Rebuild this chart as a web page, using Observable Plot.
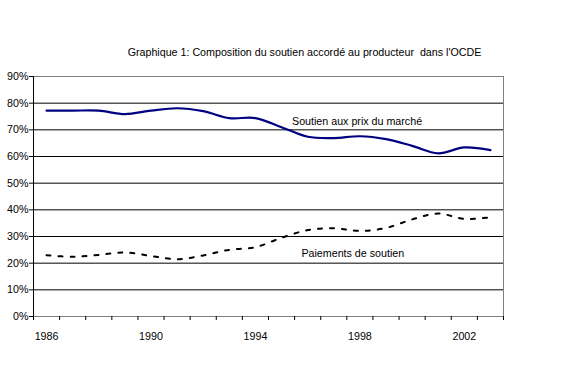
<!DOCTYPE html>
<html><head><meta charset="utf-8">
<script src="https://cdn.jsdelivr.net/npm/d3@7"></script>
<script src="https://cdn.jsdelivr.net/npm/@observablehq/plot@0.6"></script>
<style>body{margin:0;background:#fff;} svg{display:block}</style>
</head><body><div id="chart"></div>
<script>
const title = "Graphique 1: Composition du soutien accordé au producteur  dans l'OCDE";
const years = [1986,1987,1988,1989,1990,1991,1992,1993,1994,1995,1996,1997,1998,1999,2000,2001,2002,2003];
const soutienPrix = [77.2,77.2,77.2,75.9,77.2,78.1,77.0,74.4,74.4,71.0,67.4,66.9,67.6,66.5,64.0,61.2,63.4,62.4];
const paiements   = [23.0,22.4,23.1,24.0,22.7,21.5,22.9,25.0,26.0,29.5,32.4,33.1,32.1,33.2,36.4,38.6,36.6,37.2];
const seriesNames = ["Soutien aux prix du marché", "Paiements de soutien"];
const yTicks = [0,10,20,30,40,50,60,70,80,90];
const xTickLabels = [1986,1990,1994,1998,2002];

const data = years.map((year, i) => ({year, prix: soutienPrix[i], paiem: paiements[i]}));
const x0 = years[0] - 0.5, x1 = years[years.length - 1] + 0.5;
const boundaries = years.map(y => y - 0.5).concat([x1]);

const chart = Plot.plot({
  width: 578, height: 386,
  marginLeft: 33, marginRight: 75, marginTop: 76, marginBottom: 70,
  style: {fontFamily: "'Liberation Sans', Arial, sans-serif", fontSize: "10.7px", color: "#000", background: "#fff"},
  x: {domain: [x0, x1], label: null},
  y: {domain: [0, 90], label: null},
  marks: [
    Plot.ruleY(yTicks.slice(1, -1), {stroke: "#000", strokeWidth: 1}),
    Plot.ruleY([yTicks[yTicks.length - 1]], {stroke: "#808080", strokeWidth: 1}),
    Plot.ruleX([x1], {stroke: "#808080", strokeWidth: 1}),
    Plot.ruleY([0], {stroke: "#808080", strokeWidth: 1}),
    Plot.ruleX([x0], {stroke: "#000", strokeWidth: 1}),
    Plot.axisY({ticks: yTicks, tickFormat: d => d + "%", tickSize: 4, tickPadding: 1, stroke: "#000"}),
    Plot.axisX({ticks: boundaries, tickFormat: () => "", tickSize: 4, stroke: "#000"}),
    Plot.axisX({ticks: xTickLabels, tickFormat: d => String(d), tickSize: 0, tickPadding: 16}),
    Plot.line(data, {x: "year", y: "prix", stroke: "#000080", strokeWidth: 2.2, curve: "catmull-rom"}),
    Plot.line(data, {x: "year", y: "paiem", stroke: "#000", strokeWidth: 2, strokeDasharray: "4,8", curve: "catmull-rom"}),
    Plot.text([seriesNames[0]], {x: 1995.4, y: 73.0, text: d => d, textAnchor: "start", fill: "#000"}),
    Plot.text([seriesNames[1]], {x: 1995.76, y: 23.5, text: d => d, textAnchor: "start", fill: "#000"}),
    Plot.text([title], {frameAnchor: "top", dx: 36, dy: -28, text: d => d, fill: "#000"})
  ]
});
document.getElementById("chart").appendChild(chart);
</script>
</body></html>
